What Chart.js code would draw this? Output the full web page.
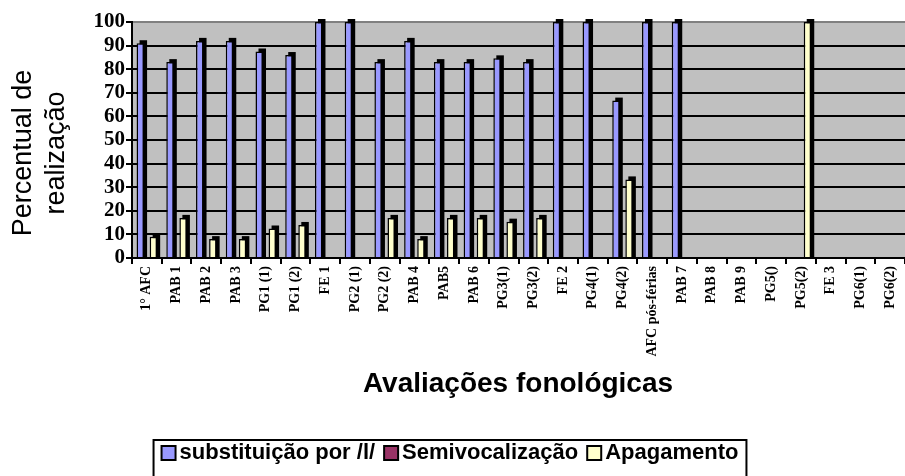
<!DOCTYPE html>
<html>
<head>
<meta charset="utf-8">
<script src="https://cdn.jsdelivr.net/npm/chart.js@4.4.1/dist/chart.umd.min.js"></script>
<style>
  html, body { margin: 0; padding: 0; background: #fff; }
  #wrap { width: 905px; height: 476px; }
</style>
</head>
<body>
<div id="wrap"><canvas id="chart" width="905" height="476"></canvas></div>
<script>
const avaliacoes = ['1° AFC', 'PAB 1', 'PAB 2', 'PAB 3', 'PG1 (1)', 'PG1 (2)', 'FE 1', 'PG2 (1)', 'PG2 (2)',
    'PAB 4', 'PAB5', 'PAB 6', 'PG3(1)', 'PG3(2)', 'FE 2', 'PG4(1)', 'PG4(2)', 'AFC pós-férias', 'PAB 7',
    'PAB 8', 'PAB 9', 'PG5()', 'PG5(2)', 'FE 3', 'PG6(1)', 'PG6(2)'];
const substituicao = [91, 83, 92, 92, 87.5, 86, 100, 100, 83, 92, 83, 83, 84.6, 83, 100, 100, 66.7, 100, 100,
    0, 0, 0, 0, 0, 0, 0];
const semivocalizacao = [0, 0, 0, 0, 0, 0, 0, 0, 0, 0, 0, 0, 0, 0, 0, 0, 0, 0, 0, 0, 0, 0, 0, 0, 0, 0];
const apagamento = [9, 17, 8, 8, 12.5, 14, 0, 0, 17, 8, 17, 17, 15.4, 17, 0, 0, 33.3, 0, 0,
    0, 0, 0, 100, 0, 0, 0];
const serieNomes = ['substituição por /l/', 'Semivocalização', 'Apagamento'];
const serieCores = ['#9999FF', '#993366', '#FFFFCC'];
const yTicks = { min: 0, max: 100, step: 10 };
const yTitulo = ['Percentual de', 'realização'];
const xTitulo = 'Avaliações fonológicas';

// gray plot background
const plotBackground = {
    id: 'plotBackground',
    beforeDraw(chart) {
        const { ctx, chartArea } = chart;
        ctx.save();
        ctx.fillStyle = '#C0C0C0';
        ctx.fillRect(chartArea.left, chartArea.top, chartArea.right - chartArea.left, chartArea.bottom - chartArea.top);
        ctx.restore();
    }
};

// black depth behind each bar, like the old 3D look
const barDepth = {
    id: 'barDepth',
    beforeDatasetsDraw(chart) {
        const ctx = chart.ctx;
        const d = 3;
        ctx.save();
        ctx.fillStyle = '#000';
        chart.data.datasets.forEach((ds, i) => {
            chart.getDatasetMeta(i).data.forEach(bar => {
                const { x, y, base, width } = bar.getProps(['x', 'y', 'base', 'width'], true);
                if (Math.abs(base - y) < 1) return;
                ctx.fillRect(x - width / 2 + d, y - d, width, base - y + d);
            });
        });
        ctx.restore();
    }
};

// axis titles and framed legend
const textos = {
    id: 'textos',
    afterDraw(chart) {
        const ctx = chart.ctx;
        ctx.save();
        ctx.fillStyle = '#000';

        // y title, two lines
        ctx.font = '27px "Liberation Sans", Arial, sans-serif';
        ctx.textAlign = 'center';
        ctx.textBaseline = 'middle';
        const yLinhas = [24, 57];
        yTitulo.forEach((t, i) => {
            ctx.save();
            ctx.translate(yLinhas[i], 153);
            ctx.rotate(-Math.PI / 2);
            ctx.fillText(t, 0, 0);
            ctx.restore();
        });

        // x title
        ctx.font = 'bold 28px "Liberation Sans", Arial, sans-serif';
        ctx.fillText(xTitulo, 518, 384);

        // legend
        ctx.font = 'bold 22px "Liberation Sans", Arial, sans-serif';
        ctx.textAlign = 'left';
        const box = 14, gapBox = 4, gapItem = 9;
        const larguras = serieNomes.map(n => ctx.measureText(n).width);
        const total = larguras.reduce((a, w) => a + w + box + gapBox, 0) + gapItem * 2;
        let x = 450 - total / 2;
        const yMeio = 453;
        ctx.lineWidth = 2;
        ctx.strokeStyle = '#000';
        ctx.strokeRect(x - 8, 440, total + 16, 40);
        serieNomes.forEach((n, i) => {
            ctx.fillStyle = serieCores[i];
            ctx.fillRect(x, yMeio - box / 2, box, box);
            ctx.strokeRect(x, yMeio - box / 2, box, box);
            ctx.fillStyle = '#000';
            ctx.fillText(n, x + box + gapBox, yMeio);
            x += box + gapBox + larguras[i] + gapItem;
        });
        ctx.restore();
    }
};

const ctx = document.getElementById('chart').getContext('2d');
new Chart(ctx, {
    type: 'bar',
    data: {
        labels: avaliacoes,
        datasets: [
            { label: serieNomes[0], data: substituicao, backgroundColor: serieCores[0] },
            { label: serieNomes[1], data: semivocalizacao, backgroundColor: serieCores[1] },
            { label: serieNomes[2], data: apagamento, backgroundColor: serieCores[2] },
        ],
    },
    options: {
        responsive: false,
        animation: false,
        layout: { padding: { top: 22, right: 0, bottom: 0, left: 0 } },
        datasets: {
            bar: {
                borderColor: '#000',
                borderWidth: 1.5,
                borderSkipped: 'bottom',
                categoryPercentage: 0.66,
                barPercentage: 1.15,
                clip: false,
            },
        },
        plugins: {
            legend: { display: false },
            tooltip: { enabled: false },
        },
        scales: {
            x: {
                afterFit(scale) {
                    scale.height = 218;
                    scale.paddingLeft = 0;
                    scale.paddingRight = 0;
                },
                grid: {
                    display: true,
                    drawOnChartArea: false,
                    drawTicks: true,
                    tickLength: 6,
                    color: '#000',
                    lineWidth: 2,
                    offset: true,
                },
                border: { display: true, color: '#000', width: 2 },
                ticks: {
                    autoSkip: false,
                    minRotation: 90,
                    maxRotation: 90,
                    padding: 2,
                    color: '#000',
                    font: { family: '"Liberation Serif", "Times New Roman", serif', size: 14, weight: 'bold' },
                },
            },
            y: {
                min: yTicks.min,
                max: yTicks.max,
                afterFit(scale) {
                    scale.width = 132;
                },
                grid: {
                    color: (c) => (c.tick && c.tick.value === yTicks.max ? '#808080' : '#000'),
                    tickColor: '#000',
                    lineWidth: 2,
                    tickLength: 6,
                },
                border: { display: true, color: '#000', width: 2 },
                ticks: {
                    stepSize: yTicks.step,
                    autoSkip: false,
                    padding: 1,
                    color: '#000',
                    font: { family: '"Liberation Serif", "Times New Roman", serif', size: 21, weight: 'bold' },
                },
            },
        },
    },
    plugins: [plotBackground, barDepth, textos],
});
</script>
</body>
</html>
